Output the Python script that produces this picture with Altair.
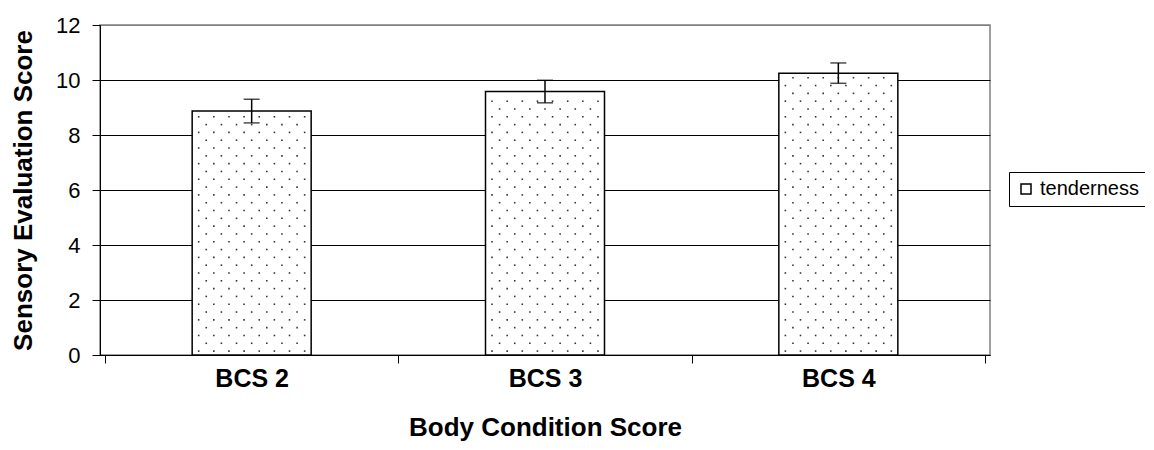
import altair as alt
import pandas as pd

categories = ["BCS 2", "BCS 3", "BCS 4"]
tenderness = [8.87, 9.58, 10.25]
errors = [0.43, 0.41, 0.37]
series_name = "tenderness"
y_ticks = [0, 2, 4, 6, 8, 10, 12]
x_title = "Body Condition Score"
y_title = "Sensory Evaluation Score"

FONT = "Liberation Sans"

df = pd.DataFrame({
    "category": categories,
    "pos": [i + 0.5 for i in range(len(categories))],
    "value": tenderness,
    "err": errors,
    "series": series_name,
})
df["lo"] = df["value"] - df["err"]
df["hi"] = df["value"] + df["err"]

# dotted fill texture inside each bar (derived from bar values)
dot_rows = []
dy = 0.284
dx = 0.0516
for p, v in zip(df["pos"], df["value"]):
    k = 0
    yy = dy * 0.5
    while yy < v - 0.08:
        even = (k % 2 == 0)
        n = 8 if even else 7
        start = -3.5 * dx if even else -3.0 * dx
        for j in range(n):
            dot_rows.append({"dx": p + start + j * dx, "dy": yy})
        k += 1
        yy += dy
dots = pd.DataFrame(dot_rows)

n_cat = len(categories)
x_vals = [i * 0.5 for i in range(2 * n_cat + 1)]
js_arr = "[" + ",".join("'" + c + "'" for c in categories) + "]"
label_expr = f"(datum.value % 1) == 0.5 ? {js_arr}[floor(datum.value)] : ''"

x_scale = alt.Scale(domain=[0, n_cat], nice=False, zero=False)
y_scale = alt.Scale(domain=[0, 12], nice=False)

x_axis = alt.Axis(
    values=x_vals,
    labelExpr=label_expr,
    grid=False,
    tickSize=8,
    tickColor="black",
    tickOpacity={"condition": {"test": "(datum.value % 1) == 0", "value": 1}, "value": 0},
    domainColor="black",
    labelFont=FONT,
    labelFontSize=25,
    labelFontWeight="bold",
    labelColor="black",
    labelBaseline="middle",
    labelPadding=15,
    labelOverlap=False,
    labelFlush=False,
    title=x_title,
    titleFont=FONT,
    titleFontSize=26,
    titleFontWeight="bold",
    titleColor="black",
    titleX=445,
    titleY=72,
    titleBaseline="middle",
    titleAlign="center",
)

y_axis = alt.Axis(
    values=y_ticks,
    grid=True,
    gridColor={"condition": {"test": "datum.value == 12", "value": "#808080"}, "value": "black"},
    gridWidth=1,
    tickSize=8,
    tickColor="black",
    domainColor="black",
    labelFont=FONT,
    labelFontSize=22,
    labelColor="black",
    labelPadding=12,
    title=y_title,
    titleFont=FONT,
    titleFontSize=26,
    titleFontWeight="bold",
    titleColor="black",
    titleX=-77,
    titleY=165,
    titleAngle=270,
    titleBaseline="middle",
    titleAlign="center",
)

base = alt.Chart(df)

bars = base.mark_bar(size=119, stroke="black", strokeWidth=1.5).encode(
    x=alt.X("pos:Q", scale=x_scale, axis=x_axis),
    y=alt.Y("value:Q", scale=y_scale, axis=y_axis),
    fill=alt.Fill(
        "series:N",
        scale=alt.Scale(range=["white"]),
        legend=alt.Legend(
            title=None,
            orient="none",
            legendX=909,
            legendY=147,
            strokeColor="black",
            padding=7,
            symbolType="square",
            symbolSize=100,
            symbolStrokeColor="black",
            symbolStrokeWidth=1.5,
            labelFont=FONT,
            labelFontSize=20,
            labelColor="black",
            labelOffset=4,
        ),
    ),
)

dot_layer = alt.Chart(dots).mark_square(size=2.5, color="#333333", opacity=1).encode(
    x=alt.X("dx:Q", scale=x_scale),
    y=alt.Y("dy:Q", scale=y_scale),
)

err_rule = base.mark_rule(color="black", strokeWidth=1.5).encode(
    x=alt.X("pos:Q", scale=x_scale),
    y=alt.Y("lo:Q", scale=y_scale),
    y2="hi:Q",
)

cap_lo = base.mark_tick(orient="horizontal", size=16, thickness=1.5, color="black").encode(
    x=alt.X("pos:Q", scale=x_scale),
    y=alt.Y("lo:Q", scale=y_scale),
)
cap_hi = base.mark_tick(orient="horizontal", size=16, thickness=1.5, color="black").encode(
    x=alt.X("pos:Q", scale=x_scale),
    y=alt.Y("hi:Q", scale=y_scale),
)

chart = alt.layer(bars, dot_layer, err_rule, cap_lo, cap_hi).properties(
    width=890,
    height=330,
    autosize=alt.AutoSizeParams(type="none"),
    padding={"left": 92, "top": 17, "right": 155, "bottom": 86},
    background="white",
).configure_view(
    stroke="#808080", strokeWidth=1.5
).configure_legend(
    strokeWidth=1
)

chart.save("out.html", embed_options={"renderer": "svg", "actions": False})
